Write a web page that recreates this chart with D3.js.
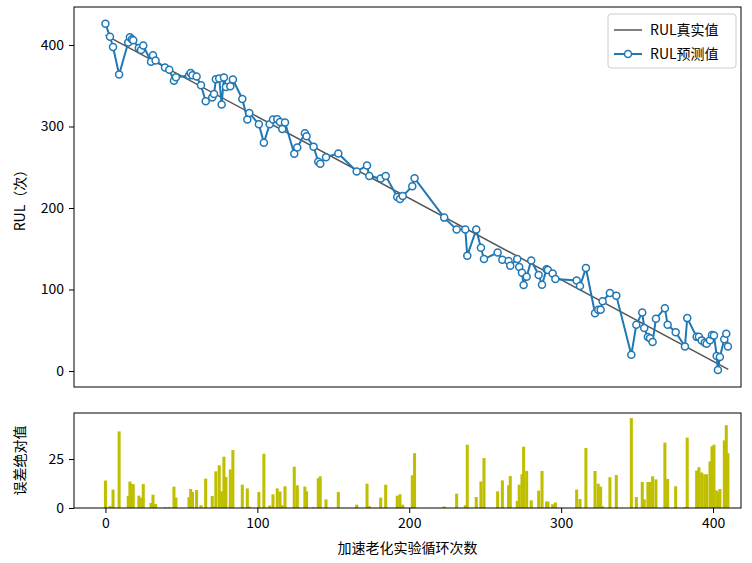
<!DOCTYPE html>
<html>
<head>
<meta charset="utf-8">
<script src="https://cdn.jsdelivr.net/npm/d3@7"></script>
<style>
  body { margin: 0; background: #fff; }
  text { font-family: "Noto Sans CJK SC", "Noto Sans", sans-serif; }
</style>
</head>
<body>
<div id="chart"></div>
<script>
// cycle numbers of the test points
var cycles = [0, 3, 5, 9, 15, 16.1, 17.4, 18.3, 22, 23.4, 24.9, 30, 31.3, 33, 39.2, 42, 45.1, 46.4,
  55, 56.1, 57.3, 60, 62.9, 66, 70.3, 71.5, 72.7, 74.9, 76.5, 78, 79.3, 82.2, 83.9, 90.1, 93.4, 94.7,
  101, 104.3, 108.1, 110.3, 113.1, 114.9, 116.4, 118.2, 124.3, 126.3, 131.3, 132.4, 137, 140.1, 141.4,
  145.2, 153.3, 165.4, 172.2, 173.7, 181.2, 184.5, 192.1, 193.9, 195.7, 202, 203.5, 223, 231.2, 236.9,
  238.2, 244.1, 247.2, 249.2, 258.2, 261.3, 265.4, 266.5, 271.1, 272.4, 274.2, 275.3, 277.3, 280.3,
  285.2, 287.4, 290.4, 291.3, 294.4, 296.2, 310.2, 312.4, 316.3, 322.3, 324.4, 326, 327.3, 332.1,
  336.3, 346.2, 349.5, 353.4, 354.7, 357.1, 358.5, 360.2, 362.4, 368.3, 370.1, 375.4, 381.5, 383,
  389.2, 390.7, 392.5, 394.5, 395.8, 398, 399.3, 400.6, 402.4, 403.2, 404.5, 407.4, 408.7, 409.8];

// predicted RUL
var predRul = [426, 410, 397.5, 363.8, 403.1, 409.4, 406.9, 405.8, 396.3, 393.9, 399.4, 379.4, 387.5, 381, 372.4, 369.6, 356, 360.3,
  362.5, 365.6, 362.9, 361.2, 350.5, 331, 335.6, 339.8, 358, 358.9, 327, 360.2, 348.5, 349.5, 357.7, 333.8, 308.6, 316.6,
  302.8, 280, 302.7, 308.7, 308.9, 305.5, 297, 304.9, 266.6, 274.1, 291.6, 288.1, 275.3, 256.7, 254.4,
  262.4, 266.9, 244.9, 252.2, 239.2, 236.1, 239.4, 213.6, 211.1, 214.6, 226.7, 236.5, 188.2, 173.5, 173.7,
  141.5, 173.5, 151.2, 137.3, 145.3, 136.6, 135, 129.2, 137.3, 127.7, 120.6, 105.4, 115.8, 135.6,
  117.9, 105.7, 124.9, 124, 119.5, 113, 111.2, 104.2, 126.3, 70.8, 75.2, 75.1, 85.5, 95.6,
  92.5, 19.9, 56.9, 71.9, 52.9, 41.6, 40.2, 35.6, 64.2, 77.1, 56.7, 47.7, 30.1, 64.9,
  41.9, 42.1, 37.6, 34.7, 33.4, 37.8, 44.2, 43.7, 18.5, 1.2, 17.2, 39.1, 45.6, 30.2];

// absolute error bars
var absErr = [14, 1, 9.4, 39.1, 6.1, 13.5, 12.3, 12.1, 6.3, 5.3, 12.3, 2.6, 6.8, 2, 0.4, 0.4, 10.9, 5.3,
  5.5, 9.7, 8.2, 9.2, 1.4, 15, 6.1, 0.7, 18.7, 21.8, 8.5, 26.2, 15.8, 19.7, 29.6, 11.9, 10, 0.7,
  8.2, 27.7, 1.2, 7, 10, 8.4, 1.4, 11.1, 21.1, 11.6, 10.9, 8.5, 0.3, 15.2, 16.2,
  4.4, 8.2, 1.7, 12.4, 0.9, 5.3, 11.9, 6.3, 7, 1.7, 16.7, 28, 0.8, 7.3, 1.4,
  32.3, 5.6, 13.6, 25.5, 8.5, 14.1, 11.6, 16.3, 3.6, 11.9, 17.2, 31.3, 18.9, 3.9,
  8.9, 18.9, 3.3, 3.3, 1.9, 2.8, 9.4, 4.6, 30.6, 18.9, 12.4, 10.9, 0.8, 15.7,
  16.8, 45.9, 5.6, 13.3, 4.4, 13.3, 13.3, 16.2, 14.6, 33.4, 14.8, 11.1, 0.4, 35.9,
  19.1, 20.8, 18.1, 17.2, 17.2, 23.8, 31.5, 32.3, 8.9, 7.6, 9.7, 34.5, 42.3, 28];

// true RUL line end points
var trueCycles = [0, 410];
var trueRul = [412, 2];

var xTicks = [0, 100, 200, 300, 400];
var yTicksTop = [0, 100, 200, 300, 400];
var yTicksBottom = [0, 25];

var width = 752, height = 563;
var left = 74, right = 741;
var top1 = 7, bottom1 = 387;
var top2 = 413, bottom2 = 508;

var svg = d3.select("#chart").append("svg")
    .attr("width", width)
    .attr("height", height);

var x = d3.scaleLinear().domain([-20.7, 418.4]).range([left, right]);
var y1 = d3.scaleLinear().domain([-19.6, 446.6]).range([bottom1, top1]);
var y2 = d3.scaleLinear().domain([0, 48.5]).range([bottom2, top2]);

// ---- top panel
var g1 = svg.append("g");

var ax1 = g1.append("g")
    .attr("transform", "translate(" + left + ",0)")
    .call(d3.axisLeft(y1).tickValues(yTicksTop).tickSize(5).tickPadding(5));

var trueLine = d3.line()
    .x(function(d, i) { return x(trueCycles[i]); })
    .y(function(d) { return y1(d); });

g1.append("path")
    .datum(trueRul)
    .attr("d", trueLine)
    .attr("fill", "none")
    .attr("stroke", "#555555")
    .attr("stroke-width", 1.5);

var predLine = d3.line()
    .x(function(d, i) { return x(cycles[i]); })
    .y(function(d) { return y1(d); });

g1.append("path")
    .datum(predRul)
    .attr("d", predLine)
    .attr("fill", "none")
    .attr("stroke", "#1f77b4")
    .attr("stroke-width", 2);

g1.selectAll("circle.pt")
    .data(predRul)
    .enter()
    .append("circle")
    .attr("class", "pt")
    .attr("cx", function(d, i) { return x(cycles[i]); })
    .attr("cy", function(d) { return y1(d); })
    .attr("r", 3.5)
    .attr("fill", "#fff")
    .attr("stroke", "#1f77b4")
    .attr("stroke-width", 1.5);

g1.append("rect")
    .attr("x", left).attr("y", top1)
    .attr("width", right - left).attr("height", bottom1 - top1)
    .attr("fill", "none").attr("stroke", "#000").attr("stroke-width", 1);

// legend
var lg = g1.append("g");
lg.append("rect")
    .attr("x", 608).attr("y", 14).attr("width", 128).attr("height", 54).attr("rx", 3)
    .attr("fill", "#fff").attr("fill-opacity", 0.8)
    .attr("stroke", "#cccccc");
lg.append("line")
    .attr("x1", 614).attr("x2", 642).attr("y1", 30).attr("y2", 30)
    .attr("stroke", "#555555").attr("stroke-width", 1.5);
lg.append("line")
    .attr("x1", 614).attr("x2", 642).attr("y1", 54).attr("y2", 54)
    .attr("stroke", "#1f77b4").attr("stroke-width", 2);
lg.append("circle")
    .attr("cx", 628).attr("cy", 54).attr("r", 3.5)
    .attr("fill", "#fff").attr("stroke", "#1f77b4").attr("stroke-width", 1.5);
lg.append("text").attr("x", 650).attr("y", 30).attr("dy", "0.35em")
    .attr("font-size", 14).text("RUL真实值");
lg.append("text").attr("x", 650).attr("y", 54).attr("dy", "0.35em")
    .attr("font-size", 14).text("RUL预测值");

// ---- bottom panel
var g2 = svg.append("g");

var ax2 = g2.append("g")
    .attr("transform", "translate(" + left + ",0)")
    .call(d3.axisLeft(y2).tickValues(yTicksBottom).tickSize(5).tickPadding(5));

var ax3 = g2.append("g")
    .attr("transform", "translate(0," + bottom2 + ")")
    .call(d3.axisBottom(x).tickValues(xTicks).tickSize(5).tickPadding(5));

var barW = x(2) - x(0);
g2.selectAll("rect.bar")
    .data(absErr)
    .enter()
    .append("rect")
    .attr("class", "bar")
    .attr("x", function(d, i) { return x(cycles[i]) - barW / 2; })
    .attr("y", function(d) { return y2(d); })
    .attr("width", barW)
    .attr("height", function(d) { return bottom2 - y2(d); })
    .attr("fill", "#bfbf00");

g2.append("rect")
    .attr("x", left).attr("y", top2)
    .attr("width", right - left).attr("height", bottom2 - top2)
    .attr("fill", "none").attr("stroke", "#000").attr("stroke-width", 1);

[ax1, ax2, ax3].forEach(function(a) {
    a.select(".domain").remove();
    a.selectAll("text").attr("font-size", 14).attr("fill", "#000")
        .style("font-family", "'Noto Sans CJK SC', sans-serif");
    a.selectAll("line").attr("stroke", "#000");
});

// axis titles
svg.append("text")
    .attr("transform", "translate(20," + ((top1 + bottom1) / 2) + ") rotate(-90)")
    .attr("text-anchor", "middle").attr("dy", "0.35em")
    .attr("font-size", 14).text("RUL（次）");
svg.append("text")
    .attr("transform", "translate(20," + ((top2 + bottom2) / 2) + ") rotate(-90)")
    .attr("text-anchor", "middle").attr("dy", "0.35em")
    .attr("font-size", 14).text("误差绝对值");
svg.append("text")
    .attr("x", (left + right) / 2).attr("y", 548).attr("dy", "0.35em")
    .attr("text-anchor", "middle")
    .attr("font-size", 14).text("加速老化实验循环次数");
</script>
</body>
</html>
